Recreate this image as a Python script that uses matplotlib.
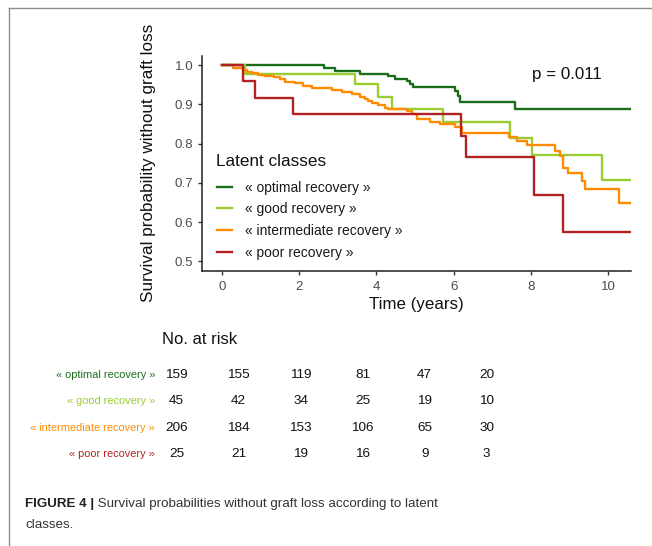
import matplotlib
matplotlib.use("Agg")
import matplotlib.pyplot as plt
from matplotlib.lines import Line2D

plt.rcParams['font.family'] = ['Liberation Sans', 'DejaVu Sans']

W, H = 652, 546

# Kaplan-Meier estimates (event times in years, survival after each step)
optimal_times = [0, 2.65, 2.93, 3.58, 4.31, 4.49, 4.79, 4.87, 4.96, 6.03, 6.12, 6.16, 7.59]
optimal_surv = [1.0, 0.993, 0.984, 0.978, 0.972, 0.965, 0.959, 0.951, 0.944, 0.935, 0.922, 0.907, 0.889]

good_times = [0, 0.60, 3.45, 4.05, 4.40, 5.73, 7.46, 8.03, 9.83]
good_surv = [1.0, 0.978, 0.953, 0.920, 0.889, 0.855, 0.815, 0.772, 0.707]

intermediate_times = [0, 0.30, 0.56, 0.65, 0.78, 0.95, 1.12, 1.34, 1.51, 1.64, 1.90,
                      2.11, 2.33, 2.85, 3.10, 3.36, 3.58, 3.71, 3.79, 3.88, 4.05,
                      4.22, 4.31, 4.79, 4.91, 5.04, 5.39, 5.65, 6.03, 6.21, 7.44,
                      7.63, 7.89, 8.62, 8.75, 8.84, 8.97, 9.31, 9.40, 10.27]
intermediate_surv = [1.0, 0.994, 0.988, 0.983, 0.980, 0.975, 0.973, 0.969, 0.964, 0.958, 0.954,
                     0.947, 0.941, 0.936, 0.932, 0.926, 0.920, 0.915, 0.909, 0.903, 0.898,
                     0.892, 0.888, 0.882, 0.875, 0.862, 0.855, 0.849, 0.843, 0.828, 0.817,
                     0.807, 0.796, 0.781, 0.768, 0.738, 0.725, 0.704, 0.683, 0.649]

poor_times = [0, 0.56, 0.86, 1.85, 6.18, 6.32, 8.07, 8.82]
poor_surv = [1.0, 0.960, 0.917, 0.875, 0.820, 0.766, 0.670, 0.574]

follow_up_end = 10.6

class_labels = ["« optimal recovery »", "« good recovery »",
                "« intermediate recovery »", "« poor recovery »"]
class_colors = ["#1A6E1A", "#9ACD32", "#FF8C00", "#B22222"]

risk_times = [0, 2, 4, 6, 8, 10]
risk_optimal = [159, 155, 119, 81, 47, 20]
risk_good = [45, 42, 34, 25, 19, 10]
risk_intermediate = [206, 184, 153, 106, 65, 30]
risk_poor = [25, 21, 19, 16, 9, 3]

p_value_text = "p = 0.011"


def fx(px):
    return px / W


def fy(py):
    return 1 - py / H


fig = plt.figure(figsize=(W / 100, H / 100), dpi=100)
fig.patch.set_facecolor("white")

# outer panel frame
frame_kw = dict(color="#8c8c8c", lw=1.0, transform=fig.transFigure)
fig.add_artist(Line2D([fx(9), fx(W + 5)], [fy(8), fy(8)], **frame_kw))
fig.add_artist(Line2D([fx(9), fx(9)], [fy(8), fy(H + 5)], **frame_kw))

# survival panel
ax_l, ax_r, ax_t, ax_b = 202, 631, 56, 270.7
ax = fig.add_axes([fx(ax_l), fy(ax_b), fx(ax_r - ax_l), (ax_b - ax_t) / H])

curves = [(optimal_times, optimal_surv), (good_times, good_surv),
          (intermediate_times, intermediate_surv), (poor_times, poor_surv)]
handles = []
for (t, s), lab, col in zip(curves, class_labels, class_colors):
    tt = list(t) + [follow_up_end]
    ss = list(s) + [s[-1]]
    ln, = ax.step(tt, ss, where="post", color=col, lw=1.7, label=lab)
    handles.append(ln)

ax.set_xlim(-0.51, 10.587)
ax.set_ylim(0.4758, 1.0235)
ax.set_xticks([0, 2, 4, 6, 8, 10])
ax.set_yticks([0.5, 0.6, 0.7, 0.8, 0.9, 1.0])
ax.set_yticklabels(["0.5", "0.6", "0.7", "0.8", "0.9", "1.0"])
for side in ["top", "right"]:
    ax.spines[side].set_visible(False)
for side in ["left", "bottom"]:
    ax.spines[side].set_linewidth(1.1)
    ax.spines[side].set_color("#222222")
ax.tick_params(axis="both", length=3.2, width=1.0, color="#333333",
               labelcolor="#4d4d4d", labelsize=9.6, pad=3.0)
ax.tick_params(axis="x", pad=4.5)

ax.set_xlabel("Time (years)", fontsize=12.2, color="#111111")
ax.set_ylabel("Survival probability without graft loss", fontsize=12.3, color="#111111")
ax.xaxis.set_label_coords(0.5, (ax_b - 297.5) / (ax_b - ax_t))
ax.yaxis.set_label_coords((156 - ax_l) / (ax_r - ax_l), 0.5)

ax.text((566.8 - ax_l) / (ax_r - ax_l), (ax_b - 74) / (ax_b - ax_t), p_value_text,
        transform=ax.transAxes, ha="center", va="center", fontsize=12.2, color="#111111")

leg = ax.legend(handles=handles, labels=class_labels, title="Latent classes",
                loc="upper left",
                bbox_to_anchor=((216.5 - ax_l) / (ax_r - ax_l), (ax_b - 154) / (ax_b - ax_t)),
                frameon=False, fontsize=10, title_fontsize=12.3, alignment="left",
                handlelength=1.12, handletextpad=0.9, labelspacing=0.56,
                borderpad=0, borderaxespad=0)
# a little more room between the legend title and its entries
leg._legend_box.sep = 0.56 * 10 + 2.7
for txt in leg.get_texts():
    txt.set_color("#1a1a1a")
leg.get_title().set_color("#111111")

# number-at-risk table
fig.text(fx(162), fy(339), "No. at risk", ha="left", va="center", fontsize=12, color="#111111")

row_top, row_bot = 375.3, 453.7
col0, col10 = 176.7, 486.7
tab = fig.add_axes([fx(col0), fy(row_bot), fx(col10 - col0), (row_bot - row_top) / H])
tab.set_xlim(0, 10)
tab.set_ylim(3, 0)
tab.axis("off")
risk_rows = [risk_optimal, risk_good, risk_intermediate, risk_poor]
for i, (row, lab, col) in enumerate(zip(risk_rows, class_labels, class_colors)):
    tab.text((155 - col0) / (col10 - col0) * 10, i, lab, ha="right", va="center",
             fontsize=7.9, color=col, clip_on=False)
    for t, n in zip(risk_times, row):
        tab.text(t, i, str(n), ha="center", va="center", fontsize=9.7,
                 color="#111111", clip_on=False)

# caption
cap1 = fig.text(fx(25), fy(504), "FIGURE 4 |", ha="left", va="center",
                fontsize=9.6, fontweight="bold", color="#222222")
ax.annotate(" Survival probabilities without graft loss according to latent",
            xy=(1, 0), xycoords=cap1, va="bottom", ha="left",
            fontsize=9.6, color="#333333", annotation_clip=False)
fig.text(fx(25), fy(525), "classes.", ha="left", va="center",
         fontsize=9.6, color="#333333")

fig.savefig("out.png", dpi=100, facecolor="white")
